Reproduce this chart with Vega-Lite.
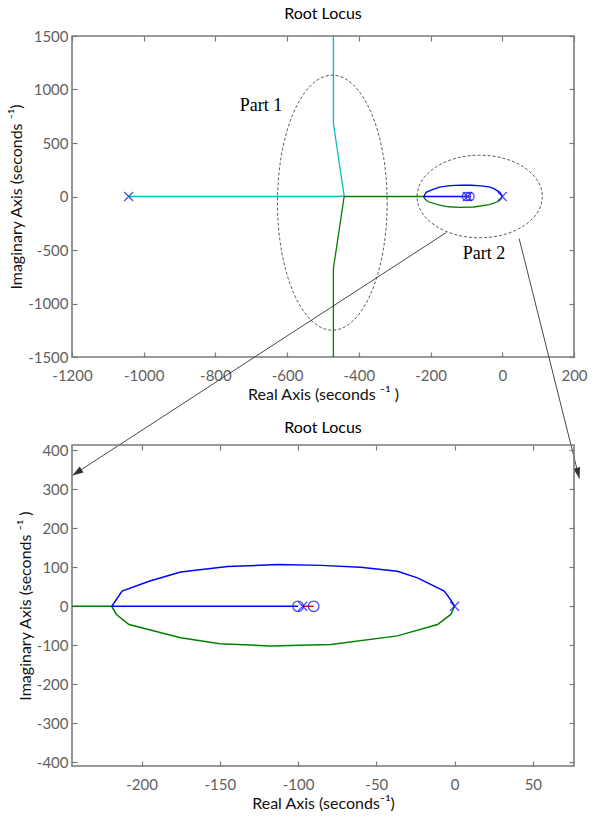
{
  "$schema": "https://vega.github.io/schema/vega-lite/v6.json",
  "background": "white",
  "padding": {"left": 7, "top": 5, "right": 5, "bottom": 5},
  "bounds": "flush",
  "spacing": 88,
  "config": {
    "font": "Lato",
    "view": {"stroke": "#7a7a7a", "strokeWidth": 1.6},
    "title": {"fontSize": 16, "font": "Lato", "fontWeight": "normal", "color": "#000000", "offset": 7},
    "axis": {
      "grid": false, "domain": false, "tickColor": "#7a7a7a", "tickSize": -5, "tickWidth": 1.2,
      "labelFont": "Lato", "labelFontSize": 15, "labelColor": "#5f5f5f",
      "labelFlush": false, "labelOverlap": false, "labelExpr": "datum.value + ''",
      "titleFont": "Lato", "titleFontSize": 16, "titleFontWeight": "normal", "titleColor": "#111111", "titlePadding": 3
    },
    "axisX": {"labelPadding": 16},
    "axisY": {"labelPadding": 9}
  },
  "datasets": {
    "locus": [
      {"b": "b1", "i": 0, "re": -1042, "im": 0},
      {"b": "b1", "i": 1, "re": -462, "im": 0},
      {"b": "b1", "i": 2, "re": -441, "im": 5},
      {"b": "b1", "i": 3, "re": -471, "im": 682},
      {"b": "b1", "i": 4, "re": -471, "im": 1700},
      {"b": "b2", "i": 0, "re": 0, "im": 0},
      {"b": "b2", "i": 1, "re": -2.4, "im": -21},
      {"b": "b2", "i": 2, "re": -10.9, "im": -47},
      {"b": "b2", "i": 3, "re": -36.5, "im": -76},
      {"b": "b2", "i": 4, "re": -79, "im": -98},
      {"b": "b2", "i": 5, "re": -118, "im": -102},
      {"b": "b2", "i": 6, "re": -150, "im": -96},
      {"b": "b2", "i": 7, "re": -175, "im": -81},
      {"b": "b2", "i": 8, "re": -208, "im": -47},
      {"b": "b2", "i": 9, "re": -216, "im": -21},
      {"b": "b2", "i": 10, "re": -219, "im": 0},
      {"b": "b2", "i": 11, "re": -441, "im": 0},
      {"b": "b2", "i": 12, "re": -471, "im": -673},
      {"b": "b2", "i": 13, "re": -471, "im": -1700},
      {"b": "b3", "i": 0, "re": 0, "im": 0},
      {"b": "b3", "i": 1, "re": -2, "im": 14},
      {"b": "b3", "i": 2, "re": -6.6, "im": 39},
      {"b": "b3", "i": 3, "re": -23.7, "im": 73},
      {"b": "b3", "i": 4, "re": -36.5, "im": 90},
      {"b": "b3", "i": 5, "re": -60, "im": 100},
      {"b": "b3", "i": 6, "re": -85, "im": 105},
      {"b": "b3", "i": 7, "re": -113, "im": 107},
      {"b": "b3", "i": 8, "re": -145, "im": 102},
      {"b": "b3", "i": 9, "re": -175, "im": 88},
      {"b": "b3", "i": 10, "re": -194.7, "im": 65},
      {"b": "b3", "i": 11, "re": -212.4, "im": 39},
      {"b": "b3", "i": 12, "re": -219, "im": 0},
      {"b": "b3", "i": 13, "re": -100, "im": 0},
      {"b": "b4", "i": 0, "re": -97, "im": 0},
      {"b": "b4", "i": 1, "re": -90, "im": 0}
    ],
    "poles": [
      {"re": -1042, "im": 0},
      {"re": 0, "im": 0},
      {"re": -97, "im": 0}
    ],
    "zeros": [
      {"re": -100, "im": 0},
      {"re": -90, "im": 0}
    ],
    "ellipses": [
      {"id": "e1", "re": -474, "im": -58},
      {"id": "e2", "re": -63, "im": 0}
    ],
    "notes": [
      {"label": "Part 1", "re": -673, "im": 846},
      {"label": "Part 2", "re": -51, "im": -540}
    ],
    "arrows": [
      {"id": "a1", "i": 0, "re": -156, "im": -336},
      {"id": "a1", "i": 1, "re": -1199, "im": -2607},
      {"id": "a2", "i": 0, "re": 47, "im": -393},
      {"id": "a2", "i": 1, "re": 215, "im": -2636}
    ]
  },
  "vconcat": [
    {
      "width": 502,
      "height": 321,
      "title": "Root Locus",
      "resolve": {"axis": {"x": "independent", "y": "independent"}},
      "layer": [
        {
          "mark": {"type": "rule", "strokeDash": [1.2, 3], "color": "#777777", "strokeWidth": 1},
          "encoding": {"y": {"datum": 0, "type": "quantitative", "scale": {"domain": [-1500, 1500], "nice": false, "zero": false}, "axis": null}}
        },
        {
          "mark": {"type": "rule", "strokeDash": [1.2, 3], "color": "#777777", "strokeWidth": 1},
          "encoding": {"x": {"datum": 0, "type": "quantitative", "scale": {"domain": [-1200, 200], "nice": false, "zero": false}, "axis": null}}
        },
        {
          "data": {"name": "locus"},
          "mark": {"type": "line", "strokeWidth": 1.3, "clip": true},
          "encoding": {
            "x": {"field": "re", "type": "quantitative", "scale": {"domain": [-1200, 200], "nice": false, "zero": false},
                  "axis": {"values": [-1200, -1000, -800, -600, -400, -200, 0, 200], "title": "Real Axis (seconds ⁻¹ )"}},
            "y": {"field": "im", "type": "quantitative", "scale": {"domain": [-1500, 1500], "nice": false, "zero": false},
                  "axis": {"values": [-1500, -1000, -500, 0, 500, 1000, 1500], "title": "Imaginary Axis (seconds ⁻¹)"}},
            "order": {"field": "i", "type": "quantitative"},
            "detail": {"field": "b"},
            "color": {"field": "b", "type": "nominal", "scale": {"domain": ["b1", "b2", "b3", "b4"], "range": ["#00BFBF", "#008000", "#0000FF", "#FF0000"]}, "legend": null}
          }
        },
        {
          "data": {"name": "poles"},
          "mark": {"type": "point", "shape": "M-1,-1L1,1M-1,1L1,-1", "size": 81, "filled": false, "color": "#0000FF", "strokeWidth": 1.2},
          "encoding": {
            "x": {"field": "re", "type": "quantitative", "axis": {"orient": "top", "labels": false, "title": null, "values": [-1200, -1000, -800, -600, -400, -200, 0, 200]}},
            "y": {"field": "im", "type": "quantitative", "axis": {"orient": "right", "labels": false, "title": null, "values": [-1500, -1000, -500, 0, 500, 1000, 1500]}}
          }
        },
        {
          "data": {"name": "zeros"},
          "mark": {"type": "point", "shape": "circle", "size": 70, "filled": false, "color": "#0000FF", "strokeWidth": 1.2},
          "encoding": {
            "x": {"field": "re", "type": "quantitative", "axis": null},
            "y": {"field": "im", "type": "quantitative", "axis": null}
          }
        },
        {
          "data": {"name": "ellipses"},
          "transform": [{"filter": "datum.id == 'e1'"}],
          "mark": {"type": "point", "shape": "M0.43,0C0.43,0.5523 0.2375,1 0,1C-0.2375,1 -0.43,0.5523 -0.43,0C-0.43,-0.5523 -0.2375,-1 0,-1C0.2375,-1 0.43,-0.5523 0.43,0Z", "size": 65025, "filled": false, "color": "#333333", "strokeWidth": 0.8, "strokeDash": [3, 2], "opacity": 1},
          "encoding": {
            "x": {"field": "re", "type": "quantitative", "axis": null},
            "y": {"field": "im", "type": "quantitative", "axis": null}
          }
        },
        {
          "data": {"name": "ellipses"},
          "transform": [{"filter": "datum.id == 'e2'"}],
          "mark": {"type": "point", "shape": "M1,0C1,0.364 0.5523,0.659 0,0.659C-0.5523,0.659 -1,0.364 -1,0C-1,-0.364 -0.5523,-0.659 0,-0.659C0.5523,-0.659 1,-0.364 1,0Z", "size": 15700, "filled": false, "color": "#333333", "strokeWidth": 0.8, "strokeDash": [3, 2], "opacity": 1},
          "encoding": {
            "x": {"field": "re", "type": "quantitative", "axis": null},
            "y": {"field": "im", "type": "quantitative", "axis": null}
          }
        },
        {
          "data": {"name": "notes"},
          "mark": {"type": "text", "font": "Liberation Serif", "fontSize": 18, "color": "#000000", "baseline": "middle", "align": "center"},
          "encoding": {
            "x": {"field": "re", "type": "quantitative", "axis": null},
            "y": {"field": "im", "type": "quantitative", "axis": null},
            "text": {"field": "label"}
          }
        },
        {
          "data": {"name": "arrows"},
          "mark": {"type": "line", "color": "#333333", "strokeWidth": 0.9, "clip": false},
          "encoding": {
            "x": {"field": "re", "type": "quantitative", "axis": null},
            "y": {"field": "im", "type": "quantitative", "axis": null},
            "detail": {"field": "id"},
            "order": {"field": "i", "type": "quantitative"}
          }
        },
        {
          "data": {"name": "arrows"},
          "transform": [{"filter": "datum.id == 'a1' && datum.i == 1"}],
          "mark": {"type": "point", "shape": "M0,0L-0.32,1L0.32,1Z", "size": 484, "angle": 237, "filled": true, "color": "#333333", "opacity": 1},
          "encoding": {
            "x": {"field": "re", "type": "quantitative", "axis": null},
            "y": {"field": "im", "type": "quantitative", "axis": null}
          }
        },
        {
          "data": {"name": "arrows"},
          "transform": [{"filter": "datum.id == 'a2' && datum.i == 1"}],
          "mark": {"type": "point", "shape": "M0,0L-0.32,1L0.32,1Z", "size": 484, "angle": 166, "filled": true, "color": "#333333", "opacity": 1},
          "encoding": {
            "x": {"field": "re", "type": "quantitative", "axis": null},
            "y": {"field": "im", "type": "quantitative", "axis": null}
          }
        }
      ]
    },
    {
      "width": 502,
      "height": 321,
      "title": "Root Locus",
      "resolve": {"axis": {"x": "independent", "y": "independent"}},
      "layer": [
        {
          "mark": {"type": "rule", "strokeDash": [1.5, 5], "color": "#777777", "strokeWidth": 1.2},
          "encoding": {"y": {"datum": 0, "type": "quantitative", "scale": {"domain": [-410, 414], "nice": false, "zero": false}, "axis": null}}
        },
        {
          "mark": {"type": "rule", "strokeDash": [1.5, 5], "color": "#777777", "strokeWidth": 1.2},
          "encoding": {"x": {"datum": 0, "type": "quantitative", "scale": {"domain": [-244.4, 76.3], "nice": false, "zero": false}, "axis": null}}
        },
        {
          "data": {"name": "locus"},
          "mark": {"type": "line", "strokeWidth": 1.5, "clip": true},
          "encoding": {
            "x": {"field": "re", "type": "quantitative", "scale": {"domain": [-244.4, 76.3], "nice": false, "zero": false},
                  "axis": {"values": [-200, -150, -100, -50, 0, 50], "title": "Real Axis (seconds⁻¹)"}},
            "y": {"field": "im", "type": "quantitative", "scale": {"domain": [-410, 414], "nice": false, "zero": false},
                  "axis": {"values": [-400, -300, -200, -100, 0, 100, 200, 300, 400], "title": "Imaginary Axis (seconds ⁻¹ )"}},
            "order": {"field": "i", "type": "quantitative"},
            "detail": {"field": "b"},
            "color": {"field": "b", "type": "nominal", "scale": {"domain": ["b1", "b2", "b3", "b4"], "range": ["#00BFBF", "#008000", "#0000FF", "#FF0000"]}, "legend": null}
          }
        },
        {
          "data": {"name": "poles"},
          "mark": {"type": "point", "shape": "M-1,-1L1,1M-1,1L1,-1", "size": 81, "filled": false, "color": "#0000FF", "strokeWidth": 1.3, "clip": true},
          "encoding": {
            "x": {"field": "re", "type": "quantitative", "axis": {"orient": "top", "labels": false, "title": null, "values": [-200, -150, -100, -50, 0, 50]}},
            "y": {"field": "im", "type": "quantitative", "axis": {"orient": "right", "labels": false, "title": null, "values": [-400, -300, -200, -100, 0, 100, 200, 300, 400]}}
          }
        },
        {
          "data": {"name": "zeros"},
          "mark": {"type": "point", "shape": "circle", "size": 110, "filled": false, "color": "#0000FF", "strokeWidth": 1.3, "clip": true},
          "encoding": {
            "x": {"field": "re", "type": "quantitative", "axis": null},
            "y": {"field": "im", "type": "quantitative", "axis": null}
          }
        }
      ]
    }
  ]
}
